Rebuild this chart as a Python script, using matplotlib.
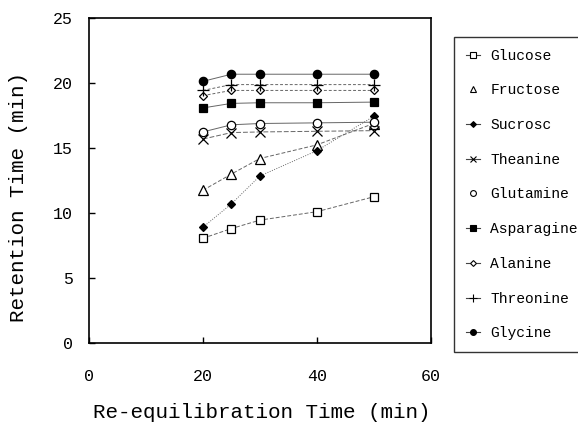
"""Retention time vs re-equilibration time for sugars and amino acids."""
import matplotlib
matplotlib.use("Agg")
import matplotlib.pyplot as plt
from matplotlib.lines import Line2D

plt.rcParams.update({
    "font.family": ["Liberation Mono", "DejaVu Sans Mono"],
    "font.size": 10.5,
})

# re-equilibration time (min)
reeq_time = [20, 25, 30, 40, 50]

analytes = ["Glucose", "Fructose", "Sucrosc", "Theanine", "Glutamine",
            "Asparagine", "Alanine", "Threonine", "Glycine"]

# retention times (min), one list per analyte
glucose = [8.05, 8.8, 9.45, 10.1, 11.25]
fructose = [11.75, 13.0, 14.2, 15.25, 16.9]
sucrose = [8.9, 10.7, 12.85, 14.8, 17.45]
theanine = [15.7, 16.2, 16.25, 16.3, 16.35]
glutamine = [16.25, 16.8, 16.9, 16.95, 17.0]
asparagine = [18.1, 18.45, 18.5, 18.5, 18.55]
alanine = [19.05, 19.45, 19.45, 19.45, 19.45]
threonine = [19.45, 19.9, 19.9, 19.9, 19.9]
glycine = [20.15, 20.7, 20.7, 20.7, 20.7]

series = [glucose, fructose, sucrose, theanine, glutamine,
          asparagine, alanine, threonine, glycine]

STYLES = [
    # marker, facecolor, linestyle, legend shows line
    ("s", "white", (0, (4, 2)), True),
    ("^", "white", (0, (4, 2)), False),
    ("D", "black", (0, (1, 1.5)), True),
    ("x", "black", (0, (5, 2)), True),
    ("o", "white", "-", False),
    ("s", "black", "-", True),
    ("D", "white", (0, (3, 2)), True),
    ("+", "black", (0, (3, 2)), True),
    ("o", "black", "-", True),
]
SIZES = {"s": 6, "^": 6.5, "D": 5, "x": 7, "o": 6, "+": 8}

fig = plt.figure(figsize=(5.78, 4.25), dpi=100)
ax = fig.add_axes([0.154, 0.1936, 0.591, 0.763])

handles = []
for name, vals, (mk, fc, ls, leg_line) in zip(analytes, series, STYLES):
    ms = SIZES[mk] * (0.85 if mk == "D" else 1)
    ax.plot(reeq_time, vals, color="#666666", lw=0.7, ls=ls,
            marker=mk, ms=ms, mfc=fc, mec="black", mew=0.9, zorder=3)
    handles.append(Line2D([], [], color="#444444", lw=0.8,
                          ls="-" if leg_line else "none",
                          marker=mk, ms=ms * 0.7, mfc=fc, mec="black",
                          mew=0.8, label=name))

ax.set_xlim(0, 60)
ax.set_ylim(0, 25)
ax.set_xticks([0, 20, 40, 60])
ax.set_yticks([0, 5, 10, 15, 20, 25])
ax.tick_params(direction="in", length=4, width=1, labelsize=12)
ax.tick_params(axis="x", pad=19)
ax.tick_params(axis="y", pad=11.5)
for s in ax.spines.values():
    s.set_linewidth(1.2)

ax.set_xlabel("Re-equilibration Time (min)", fontsize=15)
ax.set_ylabel("Retention Time (min)", fontsize=15)
ax.xaxis.set_label_coords(0.505, -0.185)
ax.yaxis.set_label_coords(-0.178, 0.448)

leg = fig.legend(handles=handles, loc="upper left",
                 bbox_to_anchor=(454 / 578, 1 - 37 / 425),
                 borderaxespad=0, fancybox=False, frameon=True,
                 edgecolor="black", fontsize=10.5, handlelength=1.0,
                 handletextpad=0.7, labelspacing=1.42, borderpad=0.8)
leg.get_frame().set_linewidth(1.0)

fig.savefig("out.png", dpi=100)
